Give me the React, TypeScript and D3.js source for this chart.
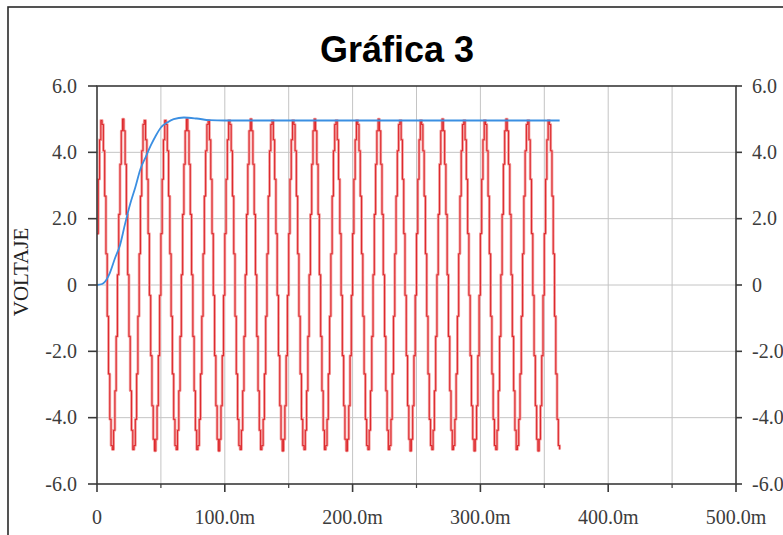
import React from 'react';
import * as d3 from 'd3';

const TITLE = 'Gráfica 3';
const Y_LABEL = 'VOLTAJE';
const X_TICKS = [0, 0.1, 0.2, 0.3, 0.4, 0.5];
const X_TICK_LABELS = ['0', '100.0m', '200.0m', '300.0m', '400.0m', '500.0m'];
const X_GRID = [0.05, 0.1, 0.15, 0.2, 0.25, 0.3, 0.35, 0.4, 0.45];
const Y_TICKS = [6, 4, 2, 0, -2, -4, -6];
const Y_TICK_LABELS = ['6.0', '4.0', '2.0', '0', '-2.0', '-4.0', '-6.0'];

// red trace: one sample per millisecond, starting at t = 0
const RED_STEP_S = 0.001;
const RED_VALUES = [
  1.55, 3.19, 4.38, 4.96, 4.84, 4.05, 2.68, 0.94, -0.94, -2.68, -4.05, -4.84, -4.96, -4.38, -3.19, -1.55, 0.31, 2.13, 3.64, 4.65, 5.0, 4.65, 3.64, 2.13, 0.31, -1.55, -3.19, -4.38, -4.96, -4.84, -4.05, -2.68, -0.94, 0.94, 2.68, 4.05, 4.84, 4.96, 4.38, 3.19, 1.55, -0.31, -2.13, -3.64, -4.65, -5.0, -4.65, -3.64, -2.13, -0.31,
  1.55, 3.19, 4.38, 4.96, 4.84, 4.05, 2.68, 0.94, -0.94, -2.68, -4.05, -4.84, -4.96, -4.38, -3.19, -1.55, 0.31, 2.13, 3.64, 4.65, 5.0, 4.65, 3.64, 2.13, 0.31, -1.55, -3.19, -4.38, -4.96, -4.84, -4.05, -2.68, -0.94, 0.94, 2.68, 4.05, 4.84, 4.96, 4.38, 3.19, 1.55, -0.31, -2.13, -3.64, -4.65, -5.0, -4.65, -3.64, -2.13, -0.31,
  1.55, 3.19, 4.38, 4.96, 4.84, 4.05, 2.68, 0.94, -0.94, -2.68, -4.05, -4.84, -4.96, -4.38, -3.19, -1.55, 0.31, 2.13, 3.64, 4.65, 5.0, 4.65, 3.64, 2.13, 0.31, -1.55, -3.19, -4.38, -4.96, -4.84, -4.05, -2.68, -0.94, 0.94, 2.68, 4.05, 4.84, 4.96, 4.38, 3.19, 1.55, -0.31, -2.13, -3.64, -4.65, -5.0, -4.65, -3.64, -2.13, -0.31,
  1.55, 3.19, 4.38, 4.96, 4.84, 4.05, 2.68, 0.94, -0.94, -2.68, -4.05, -4.84, -4.96, -4.38, -3.19, -1.55, 0.31, 2.13, 3.64, 4.65, 5.0, 4.65, 3.64, 2.13, 0.31, -1.55, -3.19, -4.38, -4.96, -4.84, -4.05, -2.68, -0.94, 0.94, 2.68, 4.05, 4.84, 4.96, 4.38, 3.19, 1.55, -0.31, -2.13, -3.64, -4.65, -5.0, -4.65, -3.64, -2.13, -0.31,
  1.55, 3.19, 4.38, 4.96, 4.84, 4.05, 2.68, 0.94, -0.94, -2.68, -4.05, -4.84, -4.96, -4.38, -3.19, -1.55, 0.31, 2.13, 3.64, 4.65, 5.0, 4.65, 3.64, 2.13, 0.31, -1.55, -3.19, -4.38, -4.96, -4.84, -4.05, -2.68, -0.94, 0.94, 2.68, 4.05, 4.84, 4.96, 4.38, 3.19, 1.55, -0.31, -2.13, -3.64, -4.65, -5.0, -4.65, -3.64, -2.13, -0.31,
  1.55, 3.19, 4.38, 4.96, 4.84, 4.05, 2.68, 0.94, -0.94, -2.68, -4.05, -4.84, -4.96, -4.38, -3.19, -1.55, 0.31, 2.13, 3.64, 4.65, 5.0, 4.65, 3.64, 2.13, 0.31, -1.55, -3.19, -4.38, -4.96, -4.84, -4.05, -2.68, -0.94, 0.94, 2.68, 4.05, 4.84, 4.96, 4.38, 3.19, 1.55, -0.31, -2.13, -3.64, -4.65, -5.0, -4.65, -3.64, -2.13, -0.31,
  1.55, 3.19, 4.38, 4.96, 4.84, 4.05, 2.68, 0.94, -0.94, -2.68, -4.05, -4.84, -4.96, -4.38, -3.19, -1.55, 0.31, 2.13, 3.64, 4.65, 5.0, 4.65, 3.64, 2.13, 0.31, -1.55, -3.19, -4.38, -4.96, -4.84, -4.05, -2.68, -0.94, 0.94, 2.68, 4.05, 4.84, 4.96, 4.38, 3.19, 1.55, -0.31, -2.13, -3.64, -4.65, -5.0, -4.65, -3.64, -2.13, -0.31,
  1.55, 3.19, 4.38, 4.96, 4.84, 4.05, 2.68, 0.94, -0.94, -2.68, -4.05, -4.84, -4.96,
];

// blue trace (time in ms, volts)
const BLUE_TIMES_MS = [0, 4, 8, 10, 14, 18, 22, 26, 30, 34, 38, 42, 46, 50, 55, 60, 68, 78, 88, 100, 200, 300, 362];
const BLUE_VALUES = [0, 0.03, 0.2, 0.36, 0.8, 1.2, 1.85, 2.45, 2.95, 3.5, 3.85, 4.2, 4.5, 4.75, 4.9, 5.0, 5.05, 5.02, 4.97, 4.96, 4.96, 4.96, 4.96];

export default function App() {
  const W = 783;
  const H = 535;
  const plot = { left: 97, right: 736, top: 86, bottom: 484 };
  const x = d3.scaleLinear().domain([0, 0.5]).range([plot.left, plot.right]);
  const y = d3.scaleLinear().domain([-6, 6]).range([plot.bottom, plot.top]);

  const redPts: [number, number][] = RED_VALUES.map((v, i) => [i * RED_STEP_S, v]);
  const bluePts: [number, number][] = BLUE_TIMES_MS.map((t, i) => [t / 1000, BLUE_VALUES[i]]);

  const redLine = d3
    .line<[number, number]>()
    .x((d) => x(d[0]))
    .y((d) => y(d[1]))
    .curve(d3.curveStepAfter);
  const blueLine = d3
    .line<[number, number]>()
    .x((d) => x(d[0]))
    .y((d) => y(d[1]))
    .curve(d3.curveMonotoneX);

  const serif = "'Liberation Serif', 'Times New Roman', serif";
  const axisColor = '#3a3a3a';
  const labelColor = '#3c3c3c';
  const redD = redLine(redPts) || '';

  return (
    <svg
      width={W}
      height={H}
      style={{ position: 'absolute', left: 0, top: 0, background: '#fff' }}
    >
      <rect x={0} y={0} width={W} height={H} fill="#fff" />
      {/* outer frame */}
      <rect x={8} y={7} width={W + 20} height={H + 20} fill="none" stroke="#2a2a2a" strokeWidth={1.6} />

      {/* title */}
      <text
        x={397}
        y={62}
        textAnchor="middle"
        fontFamily="'Liberation Sans', Arial, sans-serif"
        fontWeight="bold"
        fontSize={36}
        fill="#000"
      >
        {TITLE}
      </text>

      {/* grid */}
      {Y_TICKS.filter((v) => v !== 6 && v !== -6).map((v) => (
        <line key={'gy' + v} x1={plot.left} x2={plot.right} y1={y(v)} y2={y(v)} stroke="#c4c4c4" strokeWidth={1} />
      ))}
      {X_GRID.map((v) => (
        <line key={'gx' + v} x1={x(v)} x2={x(v)} y1={plot.top} y2={plot.bottom} stroke="#c4c4c4" strokeWidth={1} />
      ))}

      {/* traces */}
      <path d={redD} fill="none" stroke="#f4a3a3" strokeWidth={2.8} strokeLinejoin="round" />
      <path d={redD} fill="none" stroke="#dd2a2e" strokeWidth={1.1} strokeLinejoin="round" />
      <path d={blueLine(bluePts) || ''} fill="none" stroke="#3b8fe2" strokeWidth={1.8} />

      {/* plot frame */}
      <rect
        x={plot.left}
        y={plot.top}
        width={plot.right - plot.left}
        height={plot.bottom - plot.top}
        fill="none"
        stroke={axisColor}
        strokeWidth={1.6}
      />

      {/* y ticks and labels (left and right) */}
      {Y_TICKS.map((v, i) => (
        <g key={'ly' + v}>
          <line x1={plot.left - 9} x2={plot.left} y1={y(v)} y2={y(v)} stroke={axisColor} strokeWidth={1.6} />
          <text x={77} y={y(v) + 6.5} textAnchor="end" fontFamily={serif} fontSize={20} fill={labelColor}>
            {Y_TICK_LABELS[i]}
          </text>
          <line x1={plot.right} x2={plot.right + 6} y1={y(v)} y2={y(v)} stroke={axisColor} strokeWidth={1.6} />
          <text x={752} y={y(v) + 6.5} textAnchor="start" fontFamily={serif} fontSize={20} fill={labelColor}>
            {Y_TICK_LABELS[i]}
          </text>
        </g>
      ))}

      {/* x ticks */}
      {X_GRID.filter((v) => X_TICKS.indexOf(v) < 0).map((v) => (
        <line key={'mx' + v} x1={x(v)} x2={x(v)} y1={plot.bottom} y2={plot.bottom + 4} stroke={axisColor} strokeWidth={1.2} />
      ))}
      {X_TICKS.map((v, i) => (
        <g key={'xt' + v}>
          <line x1={x(v)} x2={x(v)} y1={plot.bottom} y2={plot.bottom + 8} stroke={axisColor} strokeWidth={1.6} />
          <text x={x(v)} y={524} textAnchor="middle" fontFamily={serif} fontSize={20} fill={labelColor}>
            {X_TICK_LABELS[i]}
          </text>
        </g>
      ))}

      {/* y axis title */}
      <text
        transform={`translate(28, ${272}) rotate(-90)`}
        textAnchor="middle"
        fontFamily={serif}
        fontSize={21}
        fill="#222"
      >
        {Y_LABEL}
      </text>
    </svg>
  );
}
